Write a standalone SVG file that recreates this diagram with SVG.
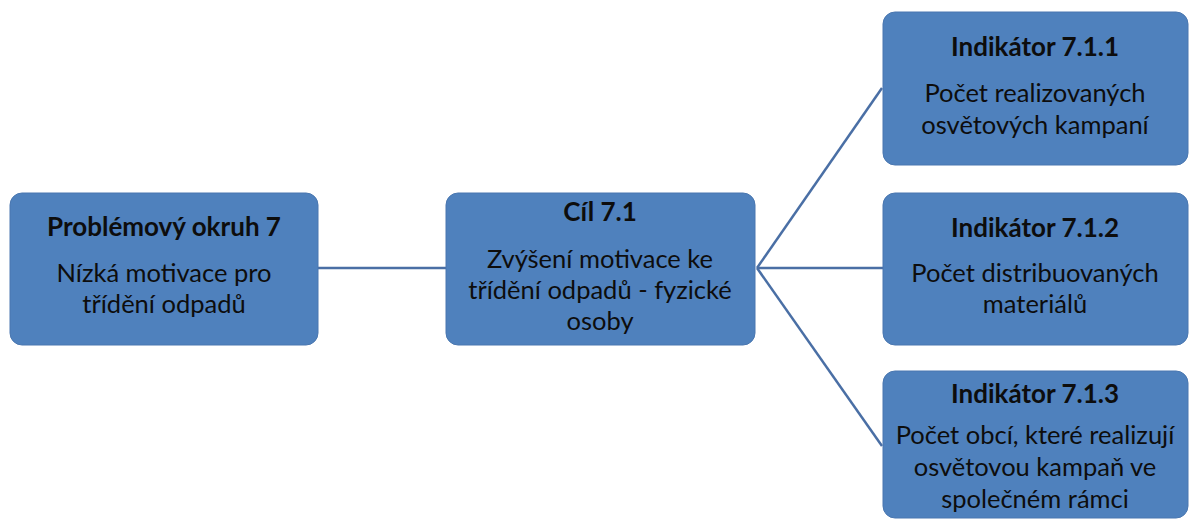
<svg xmlns="http://www.w3.org/2000/svg" width="1190" height="520" viewBox="0 0 1190 520">
<style>
.box{fill:#4F81BD;stroke:#4A77B0;stroke-width:1}
.t{font-family:Lato,"Open Sans",sans-serif;fill:#0d0d0d;text-anchor:middle}
.h{font-weight:bold;font-size:26px}
.b{font-size:25.5px}
.c{stroke:#4A6FA5;stroke-width:2.5;fill:none}
</style>
<rect width="1190" height="520" fill="#fff"/>
<g id="connectors">
<line class="c" x1="318" y1="268" x2="446" y2="268"/>
<line class="c" x1="757" y1="268" x2="882" y2="88"/>
<line class="c" x1="757" y1="268" x2="883" y2="268"/>
<line class="c" x1="757" y1="268" x2="882" y2="446"/>
</g>
<g id="problem">
<rect class="box" x="10" y="193" width="308" height="152" rx="12"/>
<text class="t h" x="164" y="236">Problémový okruh 7</text>
<text class="t b" x="164" y="282">Nízká motivace pro</text>
<text class="t b" x="164" y="313">třídění odpadů</text>
</g>
<g id="goal">
<rect class="box" x="446" y="193" width="309" height="152" rx="12"/>
<text class="t h" x="600" y="221">Cíl 7.1</text>
<text class="t b" x="600" y="268">Zvýšení motivace ke</text>
<text class="t b" x="600" y="299">třídění odpadů - fyzické</text>
<text class="t b" x="600" y="330">osoby</text>
</g>
<g id="ind1">
<rect class="box" x="883" y="12" width="305" height="153" rx="12"/>
<text class="t h" x="1035" y="56">Indikátor 7.1.1</text>
<text class="t b" x="1035" y="102">Počet realizovaných</text>
<text class="t b" x="1035" y="134">osvětových kampaní</text>
</g>
<g id="ind2">
<rect class="box" x="883" y="193" width="305" height="152" rx="12"/>
<text class="t h" x="1035" y="237">Indikátor 7.1.2</text>
<text class="t b" x="1035" y="282">Počet distribuovaných</text>
<text class="t b" x="1035" y="313">materiálů</text>
</g>
<g id="ind3">
<rect class="box" x="883" y="371" width="305" height="147" rx="12"/>
<text class="t h" x="1035" y="403">Indikátor 7.1.3</text>
<text class="t b" x="1035" y="444">Počet obcí, které realizují</text>
<text class="t b" x="1035" y="476">osvětovou kampaň ve</text>
<text class="t b" x="1035" y="508">společném rámci</text>
</g>
</svg>
